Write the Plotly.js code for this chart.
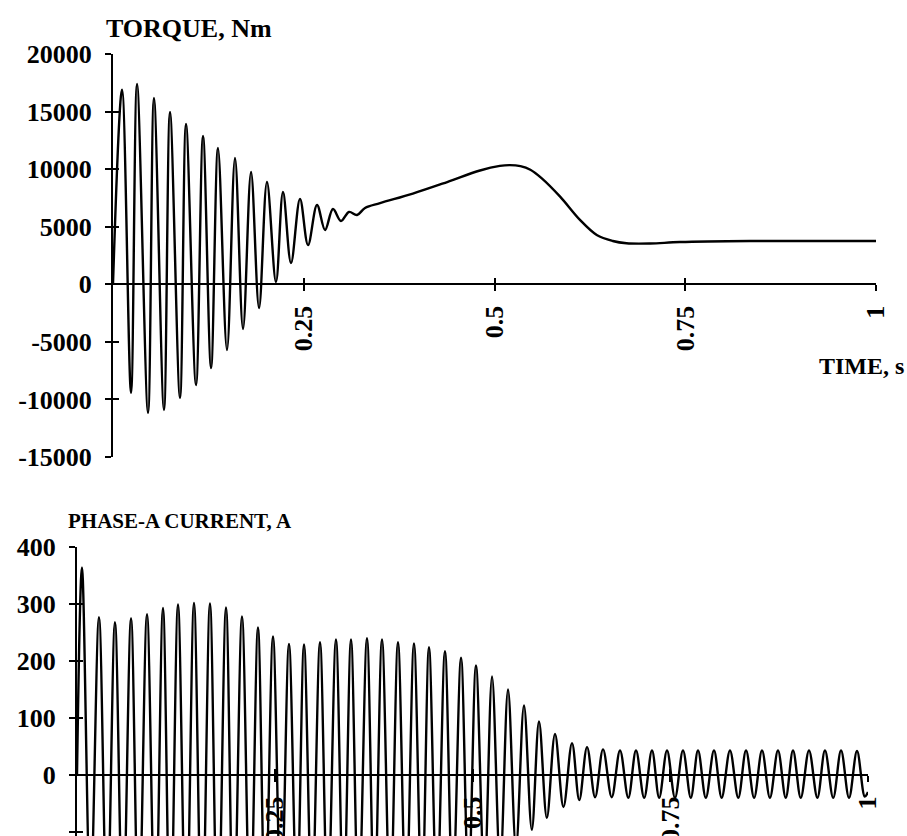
<!DOCTYPE html>
<html><head><meta charset="utf-8">
<script src="https://cdn.plot.ly/plotly-3.0.1.min.js"></script>
<style>html,body{margin:0;padding:0;background:#fff}#chart{width:907px;height:836px}</style>
</head><body><div id="chart"></div>
<script>
// ---- Torque (Nm) vs time (s): start, alternating peaks/troughs, then slow trend ----
const torqueTime = [0,
  0.0118, 0.0236, 0.0315, 0.0459, 0.0537, 0.0668, 0.0747, 0.0878, 0.0957, 0.1088,
  0.1180, 0.1285, 0.1376, 0.1494, 0.1599, 0.1704, 0.1809, 0.1914, 0.2018, 0.2136,
  0.2228, 0.2333, 0.2451, 0.2556, 0.2674, 0.2779, 0.2883, 0.2988, 0.3093, 0.3198,
  0.3303, 0.350, 0.393, 0.438, 0.481, 0.507, 0.520, 0.534, 0.547, 0.562,
  0.586, 0.612, 0.634, 0.655, 0.673, 0.704, 0.743, 0.835, 1.0];
const torqueValue = [0,
  16900, -9440, 17400, -11180, 16180, -10920, 14960, -9870, 13920, -8750,
  12880, -7270, 11840, -5710, 10970, -3880, 9750, -2060, 8880, 200,
  8020, 1850, 7410, 3410, 6890, 4720, 6540, 5500, 6280, 6020,
  6630, 7050, 7880, 8880, 9880, 10280, 10350, 10260, 9950, 9200,
  7610, 5590, 4280, 3760, 3560, 3540, 3670, 3760, 3760];

// ---- Phase-A current (A) vs time (s): start, then (peak, trough) pairs, end ----
const currentTime = [0,
  0.0063, 0.017,  0.0278, 0.038,  0.0480, 0.058,  0.0683, 0.078,  0.0885, 0.099,
  0.1087, 0.118,  0.1277, 0.138,  0.1479, 0.158,  0.1681, 0.178,  0.1884, 0.198,
  0.2086, 0.219,  0.2288, 0.238,  0.2478, 0.258,  0.2680, 0.278,  0.2870, 0.297,
  0.3072, 0.317,  0.3274, 0.337,  0.3464, 0.356,  0.3666, 0.376,  0.3856, 0.396,
  0.4058, 0.416,  0.4260, 0.436,  0.4450, 0.455,  0.4652, 0.475,  0.4855, 0.495,
  0.5044, 0.515,  0.5247, 0.535,  0.5449, 0.555,  0.5651, 0.575,  0.5841, 0.594,
  0.6043, 0.615,  0.6258, 0.635,  0.6448, 0.655,  0.6650, 0.676,  0.6865, 0.697,
  0.7067, 0.717,  0.7269, 0.736,  0.7459, 0.756,  0.7661, 0.776,  0.7851, 0.795,
  0.8053, 0.815,  0.8255, 0.836,  0.8458, 0.856,  0.8660, 0.876,  0.8862, 0.896,
  0.9052, 0.915,  0.9254, 0.936,  0.9456, 0.956,  0.9659, 0.976,  0.9861, 0.996,
  1.0];
const currentValue = [0,
  364, -220,  277, -255,  268, -262,  275, -272,  282, -285,
  293, -294,  299, -299,  302, -300,  301, -296,  294, -284,
  278, -266,  259, -249,  243, -235,  230, -228,  229, -230,
  233, -235,  238, -238,  238, -239,  240, -238,  238, -235,
  233, -232,  231, -226,  224, -219,  217, -210,  206, -198,
  192, -181,  173, -160,  150, -128,  122,  -96,   94,  -75,
   72,  -56,   56,  -44,   49,  -39,   45,  -39,   43,  -40,
   43,  -40,   43,  -40,   43,  -40,   43,  -40,   43,  -40,
   43,  -40,   43,  -40,   43,  -40,   43,  -40,   43,  -40,
   43,  -40,   43,  -40,   43,  -40,   43,  -40,   42,  -38,
  -30];

// ---- Tick labels ----
const torqueTickVals = [-15000, -10000, -5000, 0, 5000, 10000, 15000, 20000];
const torqueTickText = ['-15000', '-10000', '-5000', '0', '5000', '10000', '15000', '20000'];
const currentTickVals = [-100, 0, 100, 200, 300, 400];
const currentTickText = ['-100', '0', '100', '200', '300', '400'];
const timeTickVals = [0.25, 0.5, 0.75, 1];
const timeTickText = ['0.25', '0.5', '0.75', '1'];

// ---- Layout geometry (pixels of the 907x836 page) ----
const W = 907, H = 836;
const fx = p => p / W, fy = p => 1 - p / H;
const topDomX = [fx(113), fx(876)], topDomY = [fy(457), fy(54)];
const botDomX = [fx(77), fx(868)], botDomY = [0, fy(547)];
const topRange = [-15000, 20000], botRange = [-107, 400];
const zeroPos = (d, r) => d[0] + (0 - r[0]) / (r[1] - r[0]) * (d[1] - d[0]);

const FONT = 'Liberation Serif, Times New Roman, serif';
const tickFont = {family: FONT, size: 26, color: '#000', weight: 'bold'};

const baseY = {
  showgrid: false, zeroline: false, showline: true, linecolor: '#000', linewidth: 2,
  ticks: 'outside', ticklen: 6, tickwidth: 2, tickcolor: '#000', ticklabelstandoff: 8,
  tickfont: tickFont, tickmode: 'array', fixedrange: true
};
const baseX = {
  showgrid: false, zeroline: false, showline: true, linecolor: '#000', linewidth: 2,
  ticks: 'outside', ticklen: 6, tickwidth: 2, tickcolor: '#000', ticklabelstandoff: 4,
  tickfont: tickFont, tickmode: 'array', tickvals: timeTickVals, ticktext: timeTickText,
  tickangle: -90, range: [0, 1], fixedrange: true
};
const innerTicks = {
  showgrid: false, zeroline: false, showline: false, showticklabels: false,
  ticks: 'inside', ticklen: 6, tickwidth: 2, tickcolor: '#000', tickmode: 'array', fixedrange: true
};

const traces = [
  {x: torqueTime, y: torqueValue, xaxis: 'x', yaxis: 'y', mode: 'lines',
   line: {color: '#000', width: 2.4, shape: 'spline', smoothing: 1}, hoverinfo: 'skip'},
  {x: currentTime, y: currentValue, xaxis: 'x2', yaxis: 'y2', mode: 'lines',
   line: {color: '#000', width: 2.4, shape: 'spline', smoothing: 1}, hoverinfo: 'skip'},
  {x: [], y: [], xaxis: 'x3', yaxis: 'y3', mode: 'lines', hoverinfo: 'skip'},
  {x: [], y: [], xaxis: 'x4', yaxis: 'y4', mode: 'lines', hoverinfo: 'skip'}
];

const layout = {
  width: W, height: H, margin: {l: 0, r: 0, t: 0, b: 0},
  paper_bgcolor: '#fff', plot_bgcolor: 'rgba(0,0,0,0)', showlegend: false,
  xaxis: Object.assign({}, baseX, {domain: topDomX, anchor: 'free', position: zeroPos(topDomY, topRange)}),
  yaxis: Object.assign({}, baseY, {domain: topDomY, range: topRange, anchor: 'x',
    tickvals: torqueTickVals, ticktext: torqueTickText}),
  xaxis2: Object.assign({}, baseX, {domain: botDomX, anchor: 'free', position: zeroPos(botDomY, botRange)}),
  yaxis2: Object.assign({}, baseY, {domain: botDomY, range: botRange, anchor: 'x2',
    tickvals: currentTickVals, ticktext: currentTickText}),
  xaxis3: Object.assign({}, innerTicks, {overlaying: 'x', range: [0, 1], tickvals: timeTickVals,
    anchor: 'free', position: zeroPos(topDomY, topRange)}),
  yaxis3: Object.assign({}, innerTicks, {overlaying: 'y', range: topRange, tickvals: torqueTickVals, anchor: 'x'}),
  xaxis4: Object.assign({}, innerTicks, {overlaying: 'x2', range: [0, 1], tickvals: timeTickVals,
    anchor: 'free', position: zeroPos(botDomY, botRange)}),
  yaxis4: Object.assign({}, innerTicks, {overlaying: 'y2', range: botRange, tickvals: currentTickVals, anchor: 'x2'}),
  annotations: [
    {text: 'TORQUE, Nm', xref: 'paper', yref: 'paper', x: fx(104), y: fy(29),
     xanchor: 'left', yanchor: 'middle', showarrow: false, font: {family: FONT, size: 26, color: '#000', weight: 'bold'}},
    {text: 'TIME, s', xref: 'paper', yref: 'paper', x: fx(906), y: fy(366),
     xanchor: 'right', yanchor: 'middle', showarrow: false, font: {family: FONT, size: 24, color: '#000', weight: 'bold'}},
    {text: 'PHASE-A CURRENT, A', xref: 'paper', yref: 'paper', x: fx(66), y: fy(521),
     xanchor: 'left', yanchor: 'middle', showarrow: false, font: {family: FONT, size: 21, color: '#000', weight: 'bold'}}
  ]
};

Plotly.newPlot('chart', traces, layout, {staticPlot: true, displayModeBar: false});
</script>
</body></html>
